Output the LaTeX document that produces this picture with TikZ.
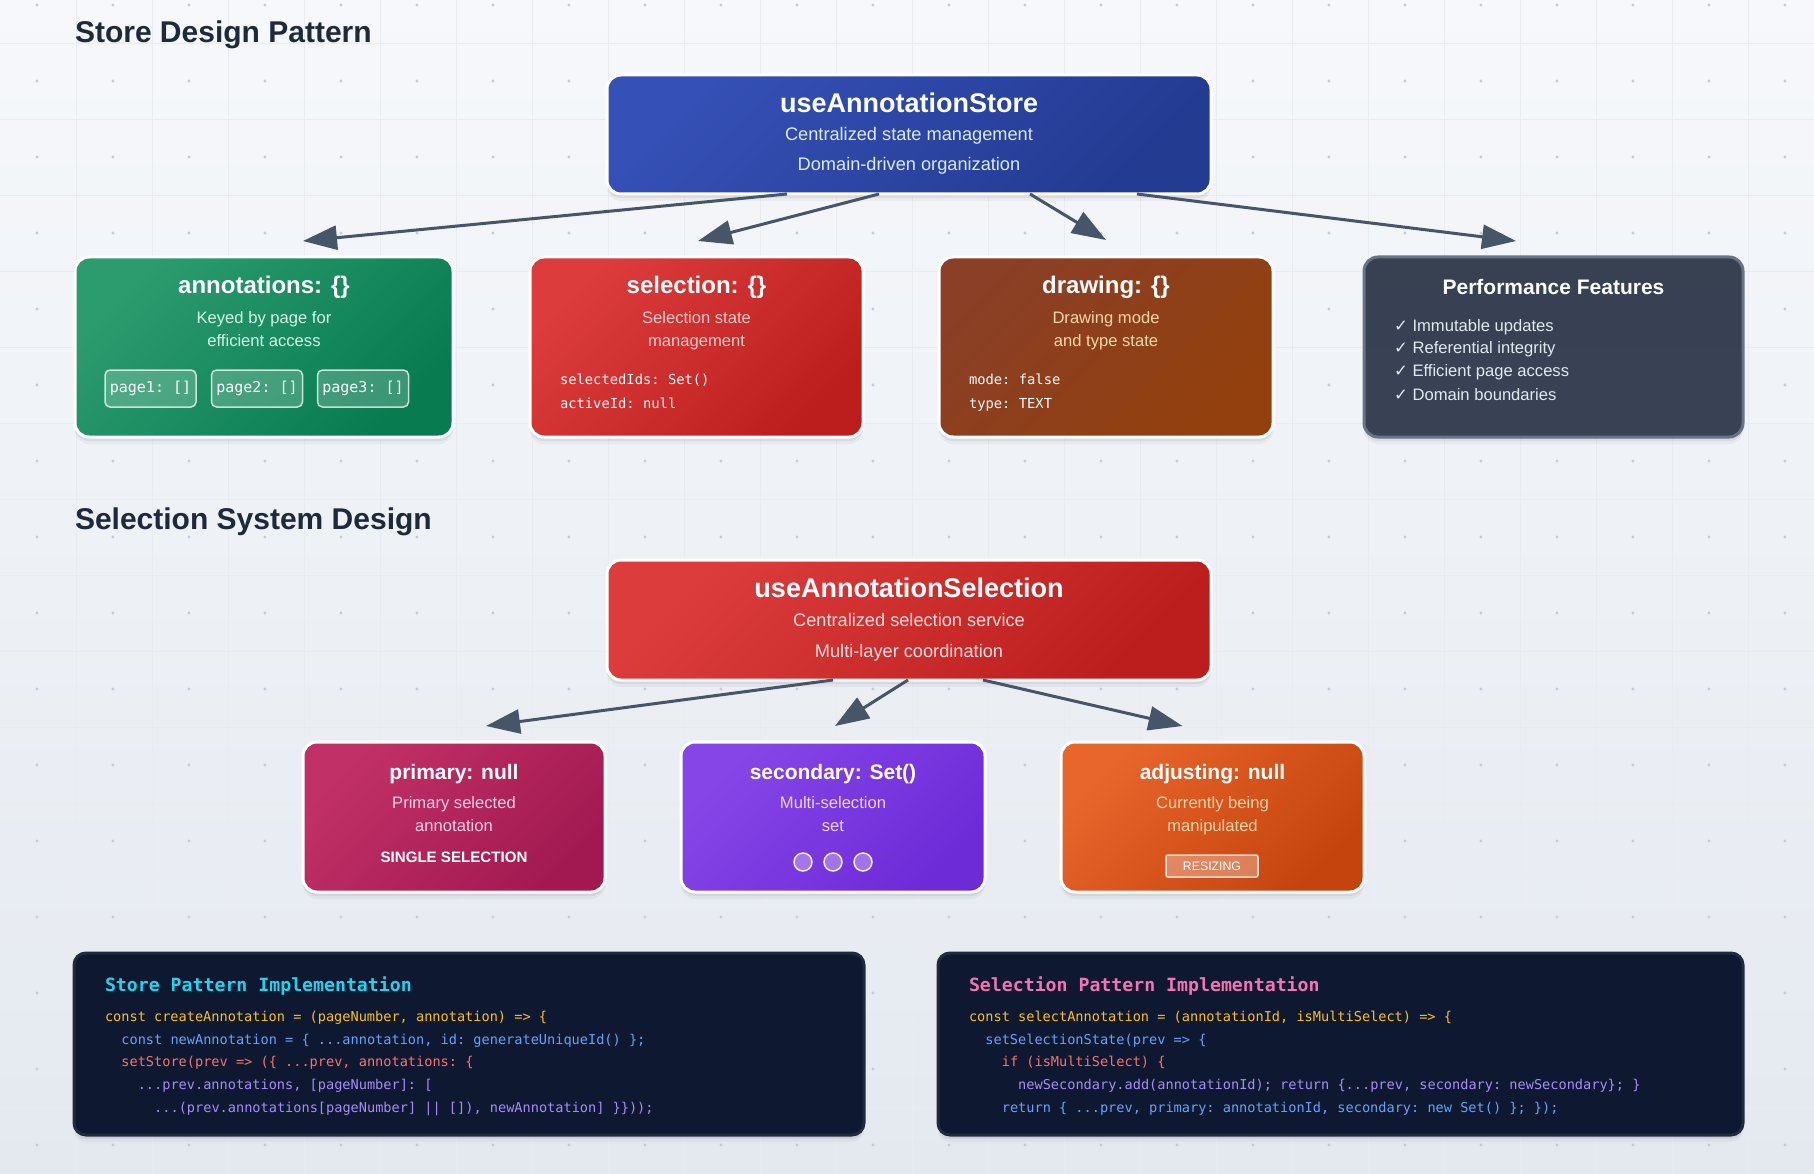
\documentclass[tikz,border=0pt]{standalone}
\usepackage{fontspec}
\setmainfont{Liberation Sans}
\setmonofont{DejaVu Sans Mono}
\newfontfamily\checkfont{DejaVu Sans}
\usetikzlibrary{arrows.meta,shadows,calc}
\definecolor{bgtop}{HTML}{F6F8FB}
\definecolor{bgbot}{HTML}{E4E9F0}
\definecolor{gridc}{HTML}{E8ECF1}
\definecolor{dotc}{HTML}{C3CBD8}
\definecolor{heading}{HTML}{1E293B}
\definecolor{arrc}{HTML}{475569}
\definecolor{storeA}{HTML}{3550B6}
\definecolor{storeB}{HTML}{243B92}
\definecolor{greenA}{HTML}{2C9C6F}
\definecolor{greenB}{HTML}{087B51}
\definecolor{redA}{HTML}{DC3C3C}
\definecolor{redB}{HTML}{BC1E1E}
\definecolor{brownA}{HTML}{8A3F26}
\definecolor{brownB}{HTML}{93400E}
\definecolor{perfA}{HTML}{384152}
\definecolor{perfB}{HTML}{394255}
\definecolor{perfborder}{HTML}{687385}
\definecolor{pinkA}{HTML}{C13167}
\definecolor{pinkB}{HTML}{A21951}
\definecolor{purpA}{HTML}{8646E7}
\definecolor{purpB}{HTML}{6D2BD8}
\definecolor{orA}{HTML}{E8662C}
\definecolor{orB}{HTML}{C5430D}
\definecolor{codebg}{HTML}{0E1830}
\definecolor{codeborder}{HTML}{1F2A3C}
\definecolor{cyellow}{HTML}{FBBF24}
\definecolor{cblue}{HTML}{60A5FA}
\definecolor{cred}{HTML}{F87171}
\definecolor{cpurple}{HTML}{A78BFA}
\definecolor{ccyan}{HTML}{22D3EE}
\definecolor{cpink}{HTML}{F472B6}
\definecolor{subblue}{HTML}{DBEAFE}
\definecolor{subgreen}{HTML}{D1FAE5}
\definecolor{subred}{HTML}{FECACA}
\definecolor{subpeach}{HTML}{FED7AA}
\definecolor{subpink}{HTML}{FBCFE8}
\definecolor{sublav}{HTML}{E9D5FF}
\definecolor{itemc}{HTML}{E2E8F0}
\tikzset{
  every node/.style={inner sep=0pt, outer sep=0pt},
  softshadow/.style={
    drop shadow={shadow xshift=0pt, shadow yshift=-7pt, opacity=0.04, fill=black},
    drop shadow={shadow xshift=0pt, shadow yshift=-4pt, opacity=0.06, fill=black}},
  card/.style={rounded corners=14pt, draw=white, line width=3pt, softshadow},
  bigtitle/.style={anchor=base, text=white, font=\bfseries\fontsize{27}{32}\selectfont},
  bigsub/.style={anchor=base, font=\fontsize{18.2}{22}\selectfont},
  cardtitle/.style={anchor=base, text=white, font=\bfseries\fontsize{24}{28}\selectfont},
  smalltitle/.style={anchor=base, text=white, font=\bfseries\fontsize{21}{25}\selectfont},
  cardsub/.style={anchor=base, font=\fontsize{16.6}{20}\selectfont},
  section/.style={anchor=base west, text=heading, font=\bfseries\fontsize{30}{36}\selectfont},
  cardcode/.style={anchor=base west, text=white, font=\ttfamily\fontsize{13.8}{16}\selectfont},
  pill/.style={rounded corners=5pt, fill=white, fill opacity=0.2, draw=white, draw opacity=0.75, line width=1.5pt, text opacity=1, text=white, font=\ttfamily\fontsize{15}{18}\selectfont},
  ring/.style={circle, minimum size=18pt, fill=white, fill opacity=0.32, draw=white, draw opacity=0.9, line width=1.5pt},
  badge/.style={rounded corners=2pt, fill=white, fill opacity=0.3, draw=white, draw opacity=0.8, line width=1.5pt, text opacity=1, text=white, font=\fontsize{12.3}{14}\selectfont},
  item/.style={anchor=base west, text=itemc, font=\fontsize{16.6}{20}\selectfont},
  arr/.style={draw=arrc, line width=3pt, -{Triangle[length=34pt,width=24pt]}},
  codebox/.style={rounded corners=12pt, fill=codebg, draw=codeborder, line width=3pt, softshadow},
  codetitle/.style={anchor=base west, font=\ttfamily\bfseries\fontsize{18.2}{22}\selectfont},
  codeline/.style={anchor=base west, font=\ttfamily\fontsize{13.6}{16}\selectfont},
}
\begin{document}
\begin{tikzpicture}[x=1pt,y=-1pt]
% background
\fill[top color=bgtop, bottom color=bgbot] (0,0) rectangle (1814,1174);
\useasboundingbox (0,0) rectangle (1814,1174);
\foreach \x in {76,152,...,1800} \draw[gridc, line width=0.6pt] (\x,0) -- (\x,1174);
\foreach \y in {43,119,...,1174} \draw[gridc, line width=0.6pt] (0,\y) -- (1814,\y);
\foreach \x in {37,113,...,1814} \foreach \y in {5,81,...,1174} \fill[dotc] (\x,\y) circle[radius=1.6pt];

% section headings
\node[section] (h1) at (75,43) {Store Design Pattern};
\node[section] (h2) at (75,529) {Selection System Design};

% ===== store =====
\node[card, top color=storeA, bottom color=storeB, shading angle=45, minimum width=604pt, minimum height=119pt] (store) at (909,134.5) {};
\node[bigtitle] (storeT) at (909,112.5) {useAnnotationStore};
\node[bigsub, text=subblue] (storeS1) at (909,141) {Centralized state management};
\node[bigsub, text=subblue] (storeS2) at (909,171) {Domain-driven organization};

% row 1 cards
\node[card, top color=greenA, bottom color=greenB, shading angle=45, minimum width=378pt, minimum height=180pt] (ann) at (264,347) {};
\node[cardtitle] (annT) at (264,294) {annotations: \{\}};
\node[cardsub, text=subgreen] (annS1) at (264,323.5) {Keyed by page for};
\node[cardsub, text=subgreen] (annS2) at (264,346.5) {efficient access};
\node[pill, minimum width=91pt, minimum height=37pt] (pg1) at (150.5,388.5) {page1: []};
\node[pill, minimum width=91pt, minimum height=37pt] (pg2) at (257,388.5) {page2: []};
\node[pill, minimum width=91pt, minimum height=37pt] (pg3) at (363,388.5) {page3: []};

\node[card, top color=redA, bottom color=redB, shading angle=45, minimum width=333pt, minimum height=180pt] (sel) at (696.5,347) {};
\node[cardtitle] (selT) at (696.5,294) {selection: \{\}};
\node[cardsub, text=subred] (selS1) at (696.5,323.5) {Selection state};
\node[cardsub, text=subred] (selS2) at (696.5,346.5) {management};
\node[cardcode] (selC1) at (560,384) {selectedIds: Set()};
\node[cardcode] (selC2) at (560,408) {activeId: null};

\node[card, top color=brownA, bottom color=brownB, shading angle=45, minimum width=334pt, minimum height=180pt] (drw) at (1106,347) {};
\node[cardtitle] (drwT) at (1106,294) {drawing: \{\}};
\node[cardsub, text=subpeach] (drwS1) at (1106,323.5) {Drawing mode};
\node[cardsub, text=subpeach] (drwS2) at (1106,346.5) {and type state};
\node[cardcode] (drwC1) at (969,384) {mode: false};
\node[cardcode] (drwC2) at (969,408) {type: TEXT};

\node[card, draw=perfborder, top color=perfA, bottom color=perfB, minimum width=379pt, minimum height=180pt] (perf) at (1553.5,347) {};
\node[anchor=base, text=white, font=\bfseries\fontsize{21}{25}\selectfont] (perfT) at (1553.5,294.5) {Performance Features};
\node[item] (pf1) at (1394,331) {{\checkfont ✓} Immutable updates};
\node[item] (pf2) at (1394,353.5) {{\checkfont ✓} Referential integrity};
\node[item] (pf3) at (1394,376.5) {{\checkfont ✓} Efficient page access};
\node[item] (pf4) at (1394,400) {{\checkfont ✓} Domain boundaries};

% store arrows
\draw[arr] ([xshift=-122pt]store.south) -- ([xshift=39pt,yshift=16pt]ann.north);
\draw[arr] ([xshift=-30pt]store.south) -- ([xshift=1.5pt,yshift=16pt]sel.north);
\draw[arr] ([xshift=121pt]store.south) -- ([xshift=0pt,yshift=17pt]drw.north);
\draw[arr] ([xshift=228pt]store.south) -- ([xshift=-37.5pt,yshift=16pt]perf.north);

% ===== selection =====
\node[card, top color=redA, bottom color=redB, shading angle=45, minimum width=604pt, minimum height=120pt] (mid) at (909,620) {};
\node[bigtitle] (midT) at (909,597) {useAnnotationSelection};
\node[bigsub, text=subred!60!white] (midS1) at (909,626) {Centralized selection service};
\node[bigsub, text=subred!60!white] (midS2) at (909,657) {Multi-layer coordination};

\node[card, top color=pinkA, bottom color=pinkB, shading angle=45, minimum width=302pt, minimum height=150pt] (prim) at (454,817) {};
\node[smalltitle] (primT) at (454,779.5) {primary: null};
\node[cardsub, text=subpink] (primS1) at (454,808.5) {Primary selected};
\node[cardsub, text=subpink] (primS2) at (454,831.5) {annotation};
\node[anchor=base, text=white, font=\bfseries\fontsize{15.1}{18}\selectfont] (primB) at (454,862.5) {SINGLE SELECTION};

\node[card, top color=purpA, bottom color=purpB, shading angle=45, minimum width=304pt, minimum height=150pt] (sec) at (833,817) {};
\node[smalltitle] (secT) at (833,779.5) {secondary: Set()};
\node[cardsub, text=sublav] (secS1) at (833,808.5) {Multi-selection};
\node[cardsub, text=sublav] (secS2) at (833,831.5) {set};
\node[ring] (r1) at (803,862) {};
\node[ring] (r2) at (833,862) {};
\node[ring] (r3) at (863,862) {};

\node[card, top color=orA, bottom color=orB, shading angle=45, minimum width=303pt, minimum height=150pt] (adj) at (1212.5,817) {};
\node[smalltitle] (adjT) at (1212.5,779.5) {adjusting: null};
\node[cardsub, text=subpeach] (adjS1) at (1212.5,808.5) {Currently being};
\node[cardsub, text=subpeach] (adjS2) at (1212.5,831.5) {manipulated};
\node[badge, minimum width=92pt, minimum height=22pt] (rsz) at (1212,866) {RESIZING};

% selection arrows
\draw[arr] ([xshift=-76pt]mid.south) -- ([xshift=32pt,yshift=16pt]prim.north);
\draw[arr] ([xshift=-1pt]mid.south) -- ([xshift=2pt,yshift=16pt]sec.north);
\draw[arr] ([xshift=74pt]mid.south) -- ([xshift=-30pt,yshift=16pt]adj.north);

% ===== code boxes =====
\node[codebox, minimum width=790pt, minimum height=182pt] (cbL) at (469,1044) {};
\node[codetitle, text=ccyan] (cbLT) at (105,991) {Store Pattern Implementation};
\node[codeline, text=cyellow] (l1) at (105,1021) {const createAnnotation = (pageNumber, annotation) => \{};
\node[codeline, text=cblue] (l2) at (121.4,1044) {const newAnnotation = \{ ...annotation, id: generateUniqueId() \};};
\node[codeline, text=cred] (l3) at (121.4,1066.5) {setStore(prev => (\{ ...prev, annotations: \{};
\node[codeline, text=cpurple] (l4) at (137.8,1089) {...prev.annotations, [pageNumber]: [};
\node[codeline, text=cpurple] (l5) at (154.2,1112) {...(prev.annotations[pageNumber] || []), newAnnotation] \}\}));};

\node[codebox, minimum width=805pt, minimum height=182pt] (cbR) at (1340.5,1044) {};
\node[codetitle, text=cpink] (cbRT) at (969,991) {Selection Pattern Implementation};
\node[codeline, text=cyellow] (r1l) at (969,1021) {const selectAnnotation = (annotationId, isMultiSelect) => \{};
\node[codeline, text=cblue] (r2l) at (985.4,1044) {setSelectionState(prev => \{};
\node[codeline, text=cred] (r3l) at (1001.8,1066.5) {if (isMultiSelect) \{};
\node[codeline, text=cpurple] (r4l) at (1018.2,1089) {newSecondary.add(annotationId); return \{...prev, secondary: newSecondary\}; \}};
\node[codeline, text=cblue] (r5l) at (1001.8,1112) {return \{ ...prev, primary: annotationId, secondary: new Set() \}; \});};
\end{tikzpicture}
\end{document}
